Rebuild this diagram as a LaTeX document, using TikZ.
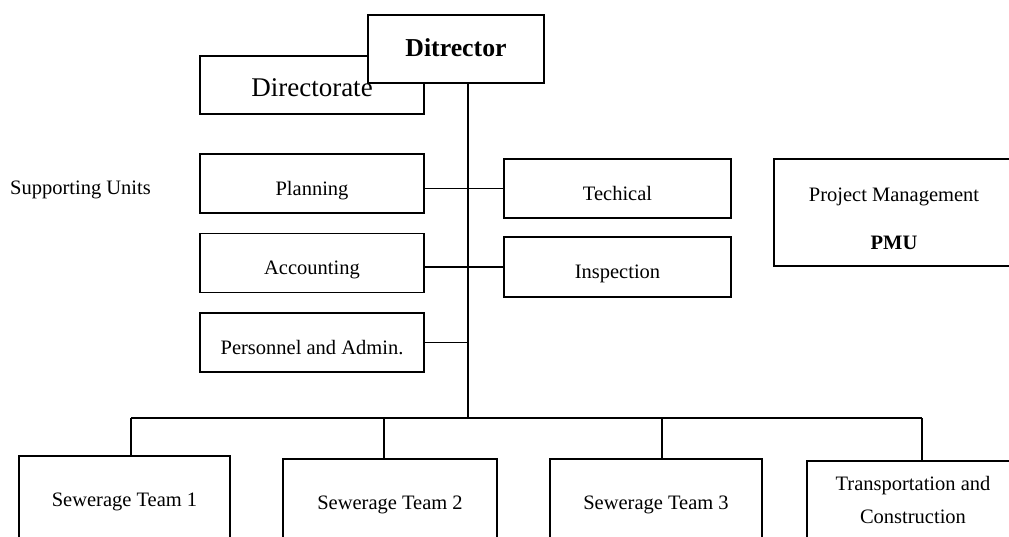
\documentclass[tikz,border=0pt]{standalone}
\usepackage{fontspec}
\setmainfont{Liberation Serif}
\usetikzlibrary{positioning}

\begin{document}
\begin{tikzpicture}[x=1pt, y=-1pt,
  boxed/.style={draw, line width=1.6pt, fill=white, inner sep=0pt},
  unit/.style={boxed, minimum height=59pt, font=\fontsize{20.5}{24.6}\selectfont,
               text height=28.5pt, text depth=4.5pt},
  team/.style={unit, anchor=north, text height=51pt, text depth=110pt},
  link/.style={line width=1.6pt}
]
  \useasboundingbox (0,0) rectangle (1009,537);
  \clip (0,0) rectangle (1009,537);

  % top: directorate behind the director
  \node[boxed, minimum width=224pt, minimum height=58pt] (dirate) at (312,85) {};
  \node[boxed, minimum width=176pt, minimum height=68pt, font=\fontsize{25.8}{30}\selectfont\bfseries,
        text height=17.5pt, text depth=2pt] (dir) at (456,49) {Ditrector};
  \node[anchor=base, font=\fontsize{27}{32}\selectfont] (dirate-lbl) at (312,97) {Directorate};

  % supporting units
  \node[font=\fontsize{20.5}{24.6}\selectfont] (supp) at (80.5,190) {Supporting Units};
  \node[unit, minimum width=224pt] (plan) at (312,183.5) {Planning};
  \node[unit, minimum width=224pt] (acc)  at (312,263)   {Accounting};
  \node[unit, minimum width=224pt] (pers) at (312,342.5) {Personnel and Admin.};
  \node[unit, minimum width=227pt] (tech) at (617.5,188.5) {Techical};
  \node[unit, minimum width=227pt, minimum height=60pt] (insp) at (617.5,267) {Inspection};
  \node[boxed, minimum width=240pt, minimum height=107pt, align=center,
        font=\fontsize{20.5}{24.6}\selectfont, text height=75pt, text depth=0pt] (pmu) at (894,212.5)
        {Project Management\\[24pt]\textbf{PMU}};

  % teams
  \node[team, minimum width=211pt] (t1) at (124.5,455) {Sewerage Team 1};
  \node[team, minimum width=214pt] (t2) at (390,458)   {Sewerage Team 2};
  \node[team, minimum width=212pt] (t3) at (656,458)   {Sewerage Team 3};
  \node[team, minimum width=212pt, align=center, text height=63pt] (t4) at (913,460)
        {Transportation and\\[8.4pt]Construction};

  % connectors
  \coordinate (trunk) at (468,418);
  \coordinate (d1) at (131,418);
  \coordinate (d2) at (384,418);
  \coordinate (d3) at (662,418);
  \coordinate (d4) at (922,418);
  \draw[link] (dir.south -| trunk) -- (trunk);
  \draw[link] (d1) -- (d4);
  \foreach \i in {1,...,4}
    \draw[link] (d\i) -- (d\i |- t\i.north);
  \draw[link] (tech.west -| plan.east) -- (tech.west);
  \draw[link] (insp.west -| acc.east) -- (insp.west);
  \draw[link] (pers.east) -- (pers.east -| trunk);
\end{tikzpicture}
\end{document}
